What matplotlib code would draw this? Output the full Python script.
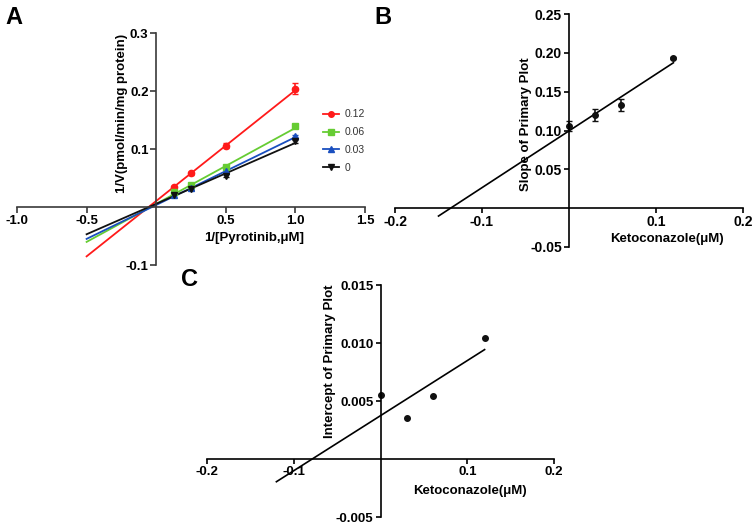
import numpy as np
import matplotlib
matplotlib.use("Agg")
import matplotlib.pyplot as plt
from matplotlib.lines import Line2D

plt.rcParams['font.family'] = ['Liberation Sans', 'DejaVu Sans']

# panel A - double reciprocal plot
inv_s = [0.125, 0.25, 0.5, 1.0]
conc_labels = ['0.12', '0.06', '0.03', '0']
inv_v = {
    '0.12': [0.0345, 0.058, 0.106, 0.204],
    '0.06': [0.0266, 0.0376, 0.0688, 0.139],
    '0.03': [0.021, 0.032, 0.0624, 0.123],
    '0':    [0.021, 0.031, 0.054, 0.113],
}
inv_v_err = {
    '0.12': [0.002, 0.002, 0.004, 0.010],
    '0.06': [0.001, 0.001, 0.002, 0.002],
    '0.03': [0.001, 0.001, 0.002, 0.002],
    '0':    [0.001, 0.001, 0.003, 0.002],
}
colors = {'0.12': '#ff1a1a', '0.06': '#66cc33', '0.03': '#1a4fbf', '0': '#111111'}
markers = {'0.12': 'o', '0.06': 's', '0.03': '^', '0': 'v'}

# panels B and C - secondary plots
keto = [0.0, 0.03, 0.06, 0.12]
slopes = [0.106, 0.12, 0.1325, 0.193]
slopes_err = [0.006, 0.0075, 0.0075, 0.001]
intercepts = [0.00555, 0.00353, 0.0054, 0.01043]

# fitted lines of the primary plot, one per concentration
line_slope = {'0.12': 0.191, '0.06': 0.131, '0.03': 0.117, '0': 0.105}
line_icpt = {'0.12': 0.0104, '0.06': 0.0053, '0.03': 0.0035, '0': 0.0055}

W, H = 754, 523
fig = plt.figure(figsize=(W / 100, H / 100), dpi=100)


def px_axes(x0, x1, y0, y1):
    return fig.add_axes([x0 / W, 1 - y1 / H, (x1 - x0) / W, (y1 - y0) / H])


def style(ax, xt, yt, xlim, ylim, fs, axcol='black', tl=3.5):
    ax.set_xlim(xlim)
    ax.set_ylim(ylim)
    for s in ['top', 'right']:
        ax.spines[s].set_visible(False)
    for s in ['left', 'bottom']:
        ax.spines[s].set_position(('data', 0))
        ax.spines[s].set_color(axcol)
        ax.spines[s].set_linewidth(1.2)
    ax.set_xticks(xt[0])
    ax.set_xticklabels(xt[1])
    ax.set_yticks(yt[0])
    ax.set_yticklabels(yt[1])
    ax.tick_params(direction='out', length=tl, width=1.2, color=axcol, labelsize=fs, pad=1.5)
    for lab in ax.get_xticklabels() + ax.get_yticklabels():
        lab.set_fontweight('bold')
    ax.patch.set_alpha(0)


# ---- A ----
axA = px_axes(17, 365, 33, 265)
xs = np.array([-0.5, 1.0])
handles = []
for c in conc_labels:
    axA.plot(xs, line_icpt[c] + line_slope[c] * xs, color=colors[c], lw=1.3)
    axA.errorbar(inv_s, inv_v[c], yerr=inv_v_err[c], fmt=markers[c], color=colors[c],
                 ms=4.5, capsize=2.5, elinewidth=1.2)
    handles.append(Line2D([], [], color=colors[c], marker=markers[c], ms=4, lw=1.3, label=c))
style(axA, ([-1.0, -0.5, 0.5, 1.0, 1.5], ['-1.0', '-0.5', '0.5', '1.0', '1.5']),
      ([-0.1, 0.1, 0.2, 0.3], ['-0.1', '0.1', '0.2', '0.3']),
      (-1.0, 1.5), (-0.1, 0.3), 9.5, axcol='#3a3a3a', tl=4)
axA.set_xlabel('1/[Pyrotinib,μM]', fontsize=9.5, fontweight='bold')
axA.xaxis.set_label_coords(0.68, 0.142)
axA.set_ylabel('1/V(pmol/min/mg protein)', fontsize=9.5, fontweight='bold')
axA.yaxis.set_label_coords(0.319, 0.655)
leg = axA.legend(handles=handles, loc='center left', bbox_to_anchor=(0.879, 0.534),
                 frameon=False, fontsize=7.5, handlelength=1.5, labelspacing=0.75,
                 handletextpad=0.55, borderaxespad=0, borderpad=0)
for t in leg.get_texts():
    t.set_color('#333333')

# ---- B ----
axB = px_axes(395, 743, 14, 247)
k, b = np.polyfit(keto, slopes, 1)
xb = np.array([-0.15, 0.12])
axB.plot(xb, b + k * xb, color='black', lw=1.2)
axB.errorbar(keto, slopes, yerr=slopes_err, fmt='o', color='#111111', ms=4,
             capsize=2.5, elinewidth=1.2)
style(axB, ([-0.2, -0.1, 0.1, 0.2], ['-0.2', '-0.1', '0.1', '0.2']),
      ([-0.05, 0.05, 0.10, 0.15, 0.20, 0.25], ['-0.05', '0.05', '0.10', '0.15', '0.20', '0.25']),
      (-0.2, 0.2), (-0.05, 0.25), 10)
axB.set_xlabel('Ketoconazole(μM)', fontsize=9.5, fontweight='bold')
axB.xaxis.set_label_coords(0.782, 0.06)
axB.set_ylabel('Slope of Primary Plot', fontsize=9.5, fontweight='bold')
axB.yaxis.set_label_coords(0.394, 0.528)

# ---- C ----
axC = px_axes(207, 554, 285, 517)
k2, b2 = np.polyfit(keto, intercepts, 1)
xc = np.array([-0.12, 0.12])
axC.plot(xc, b2 + k2 * xc, color='black', lw=1.2)
axC.plot(keto, intercepts, 'o', color='#111111', ms=4)
style(axC, ([-0.2, -0.1, 0.1, 0.2], ['-0.2', '-0.1', '0.1', '0.2']),
      ([-0.005, 0.005, 0.010, 0.015], ['-0.005', '0.005', '0.010', '0.015']),
      (-0.2, 0.2), (-0.005, 0.015), 9.5)
axC.set_xlabel('Ketoconazole(μM)', fontsize=9.5, fontweight='bold')
axC.xaxis.set_label_coords(0.758, 0.14)
axC.set_ylabel('Intercept of Primary Plot', fontsize=9.5, fontweight='bold')
axC.yaxis.set_label_coords(0.372, 0.672)

fig.text(5 / W, 1 - 6 / H, 'A', fontsize=17, fontweight='bold', va='top')
fig.text(374 / W, 1 - 6 / H, 'B', fontsize=17, fontweight='bold', va='top')
fig.text(181 / W, 1 - 268 / H, 'C', fontsize=17, fontweight='bold', va='top')

fig.savefig('out.png', dpi=100)
